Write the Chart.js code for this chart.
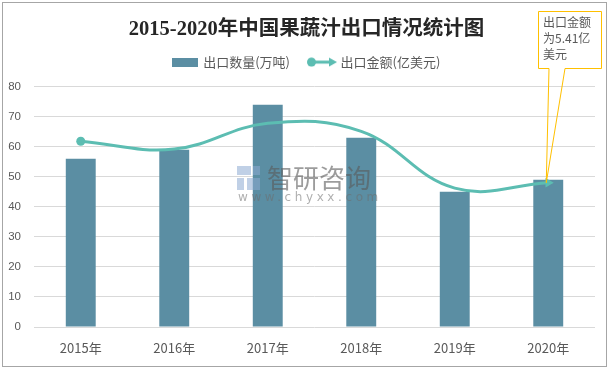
<!DOCTYPE html>
<html>
<head>
<meta charset="utf-8">
<script src="https://cdn.jsdelivr.net/npm/chart.js@4"></script>
<style>
  html, body { margin: 0; padding: 0; background: #fff; }
  #wrap { position: relative; width: 613px; height: 369px; }
</style>
</head>
<body>
<div id="wrap"><canvas id="chart" width="613" height="369"></canvas></div>
<script>
"use strict";

const YEARS = ["2015年", "2016年", "2017年", "2018年", "2019年", "2020年"];
const VOLUME = [56, 59, 74, 63, 45, 49];              // 出口数量(万吨)
const AMOUNT = [61.8, 59.2, 67.8, 65.1, 46.2, 48.0];  // 出口金额(亿美元)，按图上位置读取
const Y_TICKS = [0, 10, 20, 30, 40, 50, 60, 70, 80];
const CALLOUT = ["出口金额", "为5.41亿", "美元"];

const BAR_COLOR = "#5b8ea3";
const LINE_COLOR = "#5cbdb2";
const TEXT_COLOR = "#595959";
const CJK = '"Noto Sans CJK SC", "Noto Sans", sans-serif';

// 图例小图标
function swatchBar() {
  const c = document.createElement("canvas");
  c.width = 26; c.height = 9;
  const g = c.getContext("2d");
  g.fillStyle = BAR_COLOR;
  g.fillRect(0, 0, 26, 9);
  return c;
}
function swatchLine() {
  const c = document.createElement("canvas");
  c.width = 30; c.height = 10;
  const g = c.getContext("2d");
  g.strokeStyle = LINE_COLOR; g.fillStyle = LINE_COLOR; g.lineWidth = 3;
  g.beginPath(); g.moveTo(4, 5); g.lineTo(23, 5); g.stroke();
  g.beginPath(); g.arc(4.5, 5, 4.5, 0, Math.PI * 2); g.fill();
  g.beginPath(); g.moveTo(22, 0.5); g.lineTo(30, 5); g.lineTo(22, 9.5); g.closePath(); g.fill();
  return c;
}

const framePlugin = {
  id: "frame",
  beforeDraw(chart) {
    const ctx = chart.ctx;
    ctx.save();
    ctx.fillStyle = "#fff";
    ctx.fillRect(0, 0, chart.width, chart.height);
    ctx.strokeStyle = "#a6a6a6";
    ctx.lineWidth = 1;
    ctx.strokeRect(2.5, 2.5, 604, 364);
    ctx.restore();
  },
};

// 水印
const watermarkPlugin = {
  id: "watermark",
  afterDatasetsDraw(chart) {
    const ctx = chart.ctx;
    ctx.save();
    ctx.fillStyle = "rgba(140,170,210,0.55)";
    ctx.fillRect(237, 166, 14, 9);
    ctx.fillRect(253, 166, 7, 9);
    ctx.fillRect(237, 178, 7, 12);
    ctx.fillRect(247, 178, 13, 12);
    ctx.fillStyle = "rgba(90,90,90,0.6)";
    ctx.font = "26px " + CJK;
    ctx.textBaseline = "middle";
    ctx.textAlign = "left";
    ctx.fillText("智研咨询", 267, 178);
    ctx.fillStyle = "rgba(110,110,110,0.55)";
    ctx.font = "12px 'DejaVu Sans'";
    ctx.letterSpacing = "3.6px";
    ctx.fillText("www.chyxx.com", 238, 198);
    ctx.restore();
  },
};

// 2020 年标注框
const calloutPlugin = {
  id: "callout",
  afterDraw(chart) {
    const ctx = chart.ctx;
    const i = AMOUNT.length - 1;
    const px = chart.scales.x.getPixelForValue(i) - 2;
    const py = chart.scales.y.getPixelForValue(AMOUNT[i]);
    const bx = 538.5, by = 11.5, bw = 63, bh = 57;
    ctx.save();
    ctx.strokeStyle = "#ffc000";
    ctx.lineWidth = 1;
    ctx.fillStyle = "#fff";
    ctx.fillRect(bx, by, bw, bh);
    ctx.beginPath();
    ctx.moveTo(549, by + bh);
    ctx.lineTo(bx, by + bh);
    ctx.lineTo(bx, by);
    ctx.lineTo(bx + bw, by);
    ctx.lineTo(bx + bw, by + bh);
    ctx.lineTo(565, by + bh);
    ctx.lineTo(px, py);
    ctx.closePath();
    ctx.stroke();
    ctx.fillStyle = TEXT_COLOR;
    ctx.font = "12px " + CJK;
    ctx.textBaseline = "middle";
    ctx.textAlign = "left";
    CALLOUT.forEach((t, k) => ctx.fillText(t, 543, 22 + k * 16));
    ctx.restore();
  },
};

const cfg = {
  data: {
    labels: YEARS,
    datasets: [
      {
        type: "bar",
        label: "出口数量(万吨)",
        data: VOLUME,
        backgroundColor: BAR_COLOR,
        barPercentage: 0.32,
        categoryPercentage: 1,
        order: 1,
      },
      {
        type: "line",
        label: "出口金额(亿美元)",
        data: AMOUNT,
        borderColor: LINE_COLOR,
        backgroundColor: LINE_COLOR,
        borderWidth: 3,
        tension: 0.4,
        pointRadius: AMOUNT.map((v, i) => (i === 0 ? 4.5 : i === AMOUNT.length - 1 ? 5.5 : 0)),
        pointStyle: AMOUNT.map((v, i) => (i === AMOUNT.length - 1 ? "triangle" : "circle")),
        rotation: AMOUNT.map((v, i) => (i === AMOUNT.length - 1 ? 90 : 0)),
        pointBorderWidth: 0,
        order: 0,
      },
    ],
  },
  options: {
    responsive: false,
    animation: false,
    events: [],
    layout: { padding: 0 },
    plugins: {
      title: {
        display: true,
        text: "2015-2020年中国果蔬汁出口情况统计图",
        color: "#262626",
        font: { size: 20.5, weight: "bold", family: '"Liberation Serif", ' + CJK, lineHeight: 1.2 },
        padding: { top: 17, bottom: -6 },
      },
      legend: {
        display: true,
        labels: {
          color: TEXT_COLOR,
          font: { size: 13, family: CJK },
          usePointStyle: true,
          pointStyleWidth: 24,
          boxHeight: 10,
          padding: 20,
          generateLabels: () => [
            { text: "出口数量(万吨)", pointStyle: swatchBar(), fontColor: TEXT_COLOR, lineWidth: 0, datasetIndex: 0 },
            { text: "出口金额(亿美元)", pointStyle: swatchLine(), fontColor: TEXT_COLOR, lineWidth: 0, datasetIndex: 1 },
          ],
        },
      },
      tooltip: { enabled: false },
    },
    scales: {
      x: {
        grid: { display: false },
        border: { display: false },
        ticks: { color: TEXT_COLOR, font: { size: 13, family: CJK }, padding: 5, maxRotation: 0 },
        afterFit: (s) => { s.height = 42; },
      },
      xt: {
        position: "top",
        grid: { display: false },
        border: { display: false },
        ticks: { display: false },
        afterFit: (s) => { s.height = 8; },
      },
      y: {
        min: 0,
        max: 80,
        afterBuildTicks: (s) => { s.ticks = Y_TICKS.map((v) => ({ value: v })); },
        grid: { color: "#d9d9d9", drawTicks: false },
        border: { display: false },
        ticks: { color: TEXT_COLOR, font: { size: 11.5, family: '"Liberation Sans", sans-serif' }, padding: 13 },
        afterFit: (s) => { s.width = 34; },
      },
      yr: {
        position: "right",
        min: 0,
        max: 80,
        grid: { display: false },
        border: { display: false },
        ticks: { display: false },
        afterFit: (s) => { s.width = 18; },
      },
    },
  },
  plugins: [framePlugin, watermarkPlugin, calloutPlugin],
};

new Chart(document.getElementById("chart"), cfg);
</script>
</body>
</html>
